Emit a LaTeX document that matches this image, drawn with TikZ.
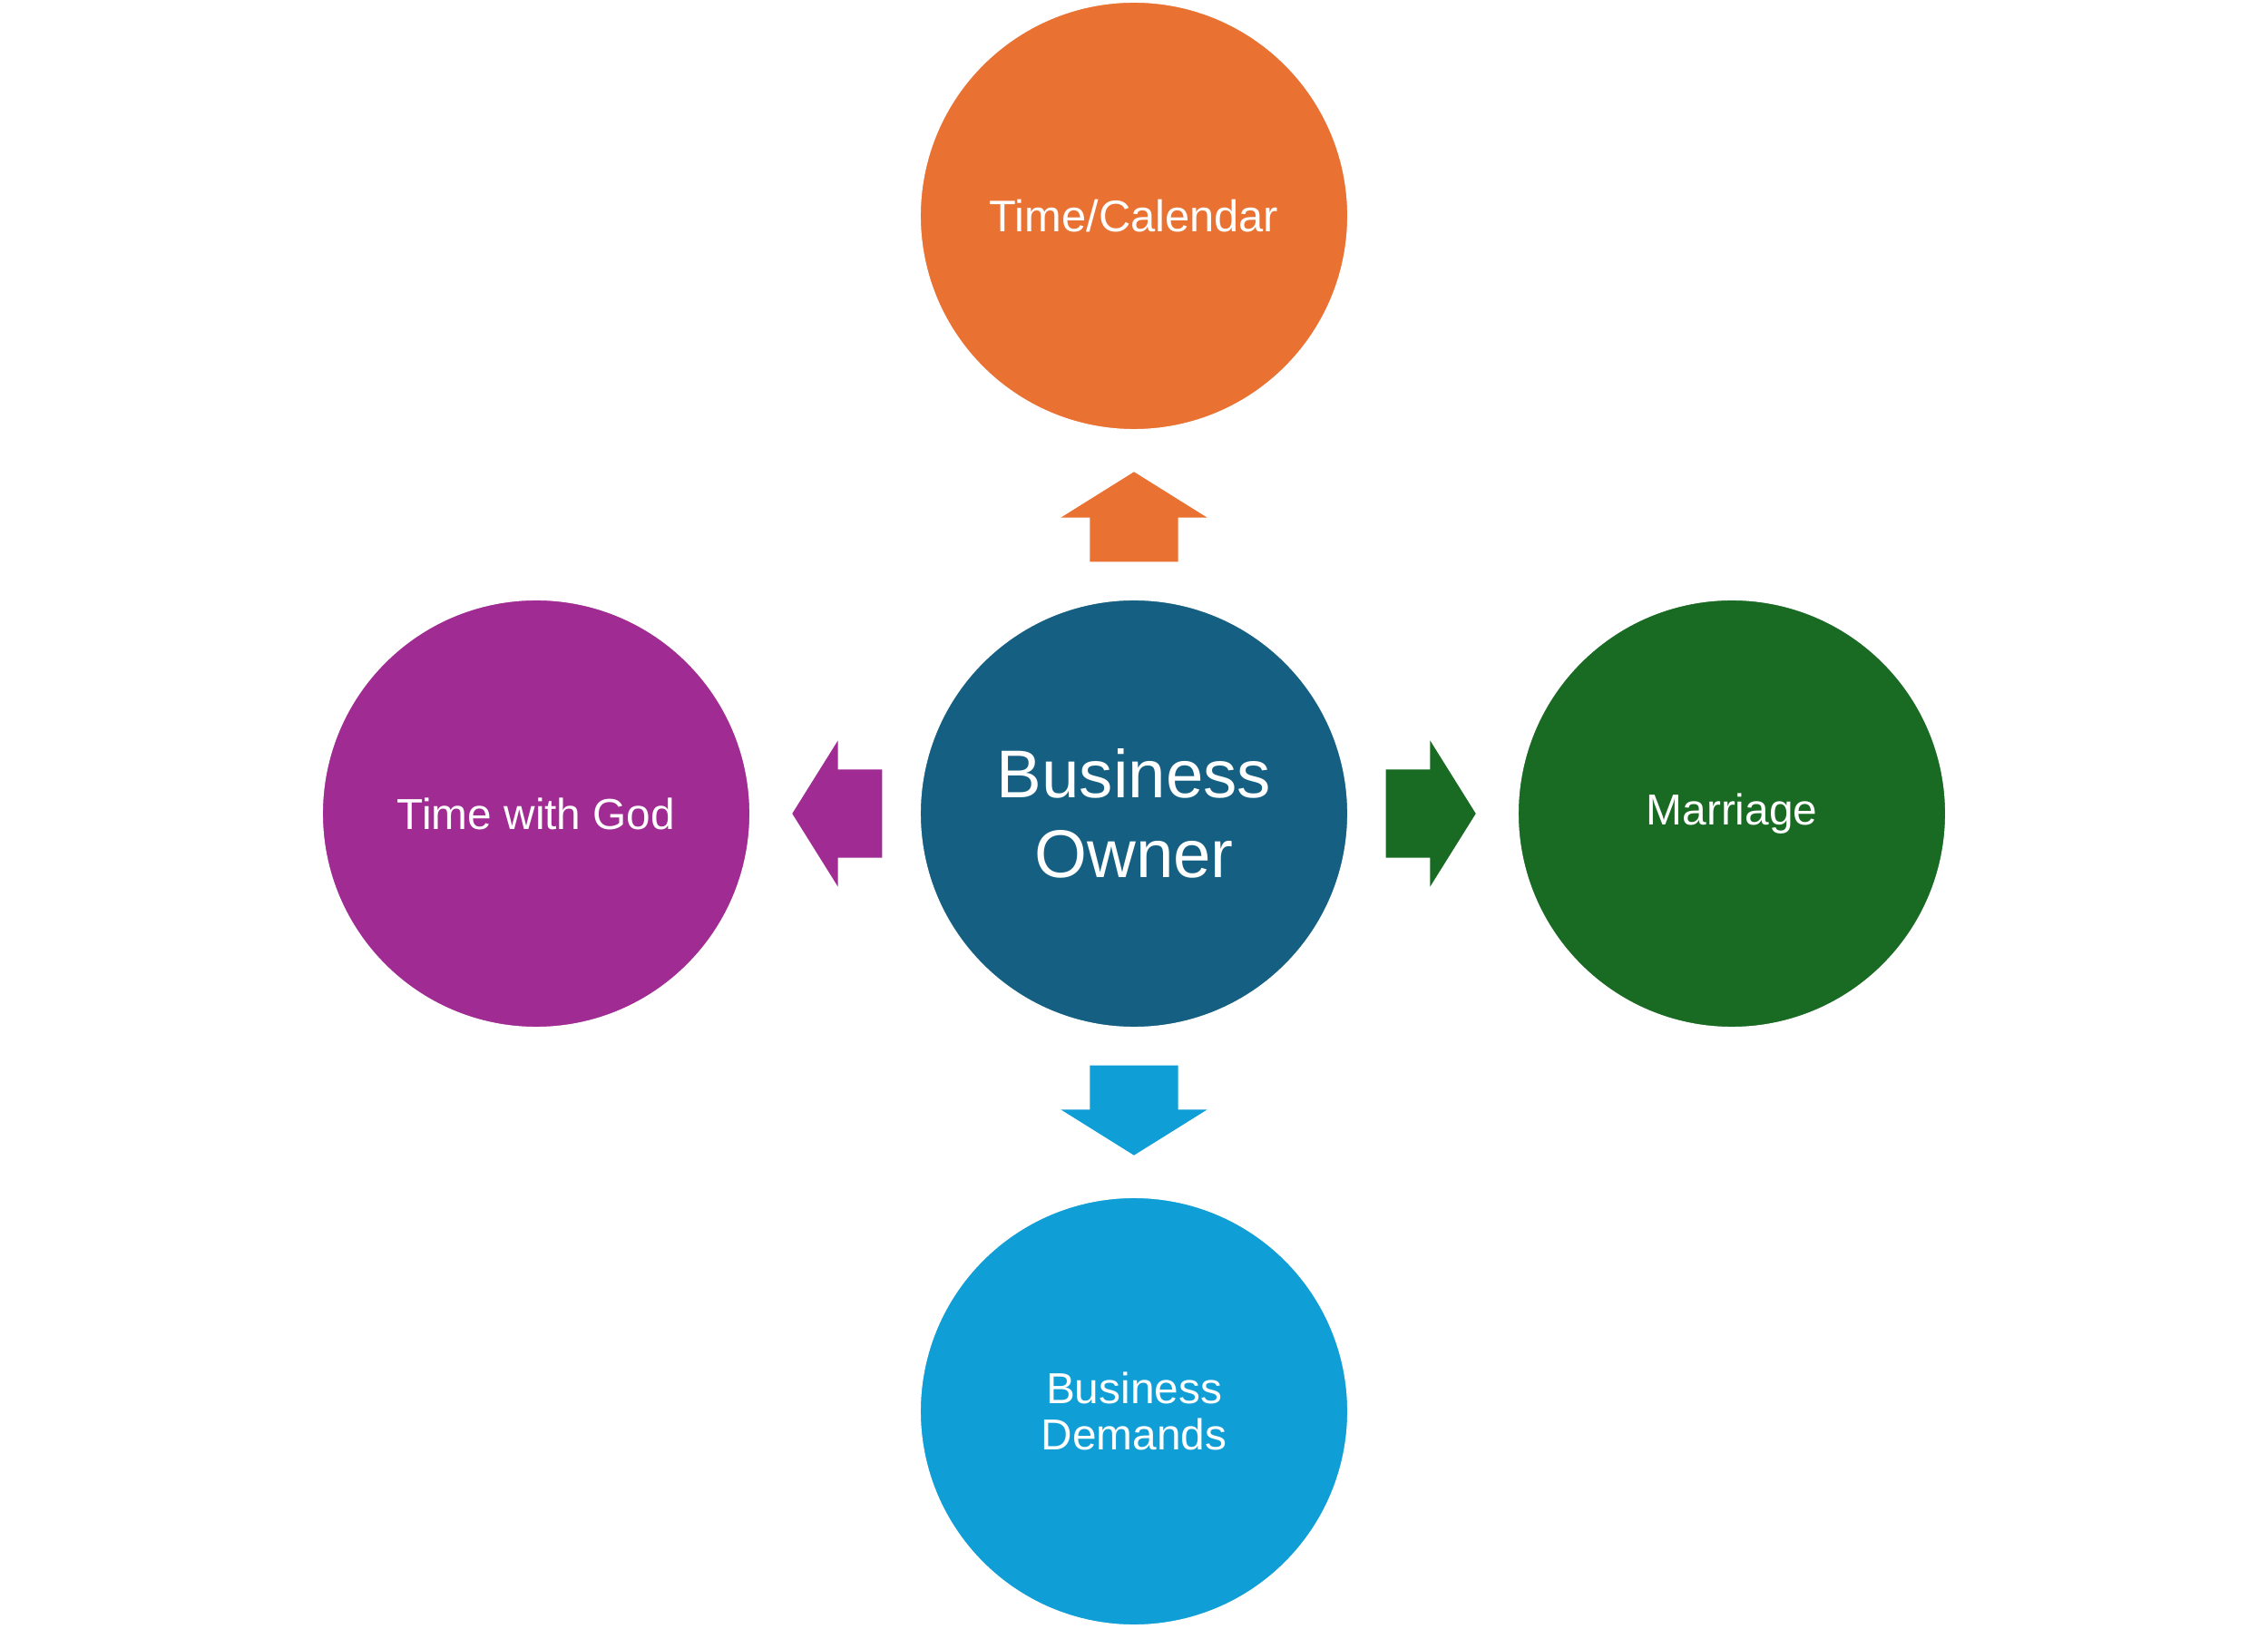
\documentclass[tikz,border=0pt]{standalone}
\usepackage{fontspec}
\setmainfont{Liberation Sans}
\usepackage{xcolor}
\usepackage{tikz}
\usetikzlibrary{calc,shapes.arrows}
\definecolor{ownerblue}{HTML}{156082}
\definecolor{calorange}{HTML}{E97132}
\definecolor{godpurple}{HTML}{A02B93}
\definecolor{wedgreen}{HTML}{196B24}
\definecolor{workblue}{HTML}{0F9ED5}
\tikzset{
  blockarrow/.style={
      single arrow, draw=none, inner xsep=0pt, inner ysep=0.48cm,
      minimum height=0.99cm, anchor=tail,
      single arrow head extend=0.32cm, single arrow tip angle=116}
}

\begin{document}
\begin{tikzpicture}[node distance={6.59cm},main/.style = {draw=white, line width=1.4pt, circle, inner sep=0pt, minimum size=4.75cm, text=white, align=center, font=\fontsize{13.6}{14.5}\selectfont}]
        \useasboundingbox (0,0) rectangle (25,17.95);
        \node[main, fill=ownerblue, font=\fontsize{21.2}{25}\selectfont](o) at (12.5,8.98){Business\\Owner};
        \node[main, fill=calorange, font=\fontsize{13.9}{14.5}\selectfont](c)[above of=o]{Time/Calendar};
        \node[main, fill=godpurple](g)[left of=o]{Time with God};
        \node[main, fill=wedgreen](m)[right of=o]{Marriage};
        \node[main, fill=workblue](d)[below of=o]{Business\\Demands};

        \node[blockarrow, fill=calorange, rotate=90] (oc) at ($(o)!2.77cm!(c)$) {};
        \node[blockarrow, fill=godpurple, rotate=180] (og) at ($(o)!2.77cm!(g)$) {};
        \node[blockarrow, fill=wedgreen] (om) at ($(o)!2.77cm!(m)$) {};
        \node[blockarrow, fill=workblue, rotate=270] (od) at ($(o)!2.77cm!(d)$) {};
      \end{tikzpicture}
\end{document}
